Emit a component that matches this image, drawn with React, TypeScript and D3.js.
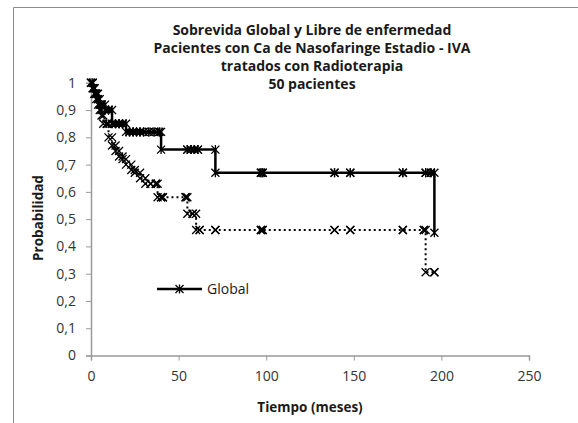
import { useEffect, useRef } from "react";
import * as d3 from "d3";

// [tiempo, probabilidad] at each event / censored case
const globalSurv: [number, number][] = [
  [0, 1], [1, 0.98], [2, 0.96], [3, 0.96], [4, 0.94], [5, 0.92], [6, 0.92],
  [8, 0.9], [10, 0.9], [12, 0.85], [14, 0.85], [16, 0.85], [18, 0.85],
  [20, 0.82], [22, 0.82], [24, 0.82], [26, 0.82], [28, 0.82], [30, 0.82],
  [33, 0.82], [36, 0.82], [39, 0.82], [40, 0.755], [55, 0.755], [57, 0.755],
  [59, 0.755], [61, 0.755], [71, 0.67], [97, 0.67], [98, 0.67], [139, 0.67],
  [148, 0.67], [178, 0.67], [191, 0.67], [194, 0.67], [196, 0.45],
];

const libreSurv: [number, number][] = [
  [0, 1], [1, 0.98], [2, 0.96], [3, 0.94], [4, 0.92], [5, 0.9], [6, 0.88],
  [7, 0.85], [9, 0.85], [10, 0.8], [12, 0.77], [14, 0.75], [16, 0.73],
  [18, 0.72], [20, 0.7], [23, 0.68], [25, 0.67], [28, 0.65], [31, 0.63],
  [34, 0.63], [37, 0.63], [38, 0.58], [40, 0.58], [41, 0.58], [54, 0.58],
  [55, 0.52], [58, 0.52], [60, 0.46], [62, 0.46], [71, 0.46], [97, 0.46],
  [98, 0.46], [139, 0.46], [148, 0.46], [178, 0.46], [190, 0.46],
  [191, 0.305], [196, 0.305],
];

const xTicks = [0, 50, 100, 150, 200, 250];
const yTicks = [0, 0.1, 0.2, 0.3, 0.4, 0.5, 0.6, 0.7, 0.8, 0.9, 1];
const titleLines = [
  "Sobrevida Global y Libre de enfermedad",
  "Pacientes con Ca de Nasofaringe Estadio - IVA",
  "tratados con Radioterapia",
  "50 pacientes",
];

const toSteps = (pts: [number, number][]) => {
  const out: [number, number][] = [];
  pts.forEach(([t, s], i) => {
    if (i > 0) out.push([t, pts[i - 1][1]]);
    out.push([t, s]);
  });
  return out;
};

export default function App() {
  const ref = useRef<SVGSVGElement>(null);

  useEffect(() => {
    const svg = d3.select(ref.current);
    svg.selectAll("*").remove();
    const width = 578;
    const height = 423;
    const font = "'Open Sans', sans-serif";

    const x = d3.scaleLinear().domain([0, 250]).range([91, 529]);
    const y = d3.scaleLinear().domain([0, 1]).range([355.5, 82.8]);

    // frame
    svg
      .append("path")
      .attr("d", `M13.5,${height} V7.5 H${width}`)
      .attr("fill", "none")
      .attr("stroke", "#8c8c8c")
      .attr("stroke-width", 1);

    // title
    svg
      .append("g")
      .selectAll("text")
      .data(titleLines)
      .join("text")
      .attr("x", 312)
      .attr("y", (_d, i) => 35 + i * 18)
      .attr("text-anchor", "middle")
      .attr("font-family", font)
      .attr("font-weight", "bold")
      .attr("font-size", 14)
      .attr("fill", "#1a1a1a")
      .text((d) => d);

    // axes
    const axisColor = "#9a9a9a";
    const gx = svg
      .append("g")
      .attr("transform", `translate(0,${y(0)})`)
      .call(
        d3
          .axisBottom(x)
          .tickValues(xTicks)
          .tickSizeOuter(0)
          .tickSize(5)
          .tickPadding(11)
      );
    const gy = svg
      .append("g")
      .attr("transform", `translate(${x(0)},0)`)
      .call(
        d3
          .axisLeft(y)
          .tickValues(yTicks)
          .tickSizeOuter(0)
          .tickSize(5)
          .tickPadding(10)
          .tickFormat((d) => d3.format(".1~f")(d as number).replace(".", ","))
      );
    [gx, gy].forEach((g) => {
      g.select(".domain").attr("stroke", axisColor).attr("stroke-width", 1.5);
      g.selectAll(".tick line").attr("stroke", axisColor);
      g.selectAll(".tick text")
        .attr("font-family", font)
        .attr("font-size", 14)
        .attr("fill", "#333");
    });

    svg
      .append("text")
      .attr("x", 310)
      .attr("y", 412)
      .attr("text-anchor", "middle")
      .attr("font-family", font)
      .attr("font-weight", "bold")
      .attr("font-size", 13.5)
      .attr("fill", "#1a1a1a")
      .text("Tiempo (meses)");
    svg
      .append("text")
      .attr("transform", `translate(43,218) rotate(-90)`)
      .attr("text-anchor", "middle")
      .attr("font-family", font)
      .attr("font-weight", "bold")
      .attr("font-size", 13.5)
      .attr("fill", "#1a1a1a")
      .text("Probabilidad");

    const line = d3
      .line<[number, number]>()
      .x((d) => x(d[0]))
      .y((d) => y(d[1]));

    const r = 4;
    const cross = (g: d3.Selection<SVGGElement, unknown, null, undefined>, px: number, py: number, star: boolean) => {
      let d = `M${px - r},${py - r}L${px + r},${py + r}M${px - r},${py + r}L${px + r},${py - r}`;
      if (star) d += `M${px},${py - r - 0.5}V${py + r + 0.5}`;
      g.append("path").attr("d", d).attr("stroke", "#000").attr("stroke-width", 1.3).attr("fill", "none");
    };

    // libre de enfermedad (dotted, x markers)
    const libreSteps = toSteps(libreSurv);
    svg
      .append("path")
      .attr("d", line(libreSteps))
      .attr("fill", "none")
      .attr("stroke", "#000")
      .attr("stroke-width", 2)
      .attr("stroke-dasharray", "2,3");
    const gl = svg.append("g");
    libreSteps.forEach((d) => cross(gl, x(d[0]), y(d[1]), false));

    // global (solid, star markers)
    const globalSteps = toSteps(globalSurv);
    svg
      .append("path")
      .attr("d", line(globalSteps))
      .attr("fill", "none")
      .attr("stroke", "#000")
      .attr("stroke-width", 2.5);
    const gg = svg.append("g");
    globalSteps.forEach((d) => cross(gg, x(d[0]), y(d[1]), true));

    // legend
    const lg = svg.append("g");
    lg.append("line")
      .attr("x1", 157)
      .attr("x2", 202)
      .attr("y1", 289)
      .attr("y2", 289)
      .attr("stroke", "#000")
      .attr("stroke-width", 2.5);
    cross(lg, 179.5, 289, true);
    lg.append("text")
      .attr("x", 207)
      .attr("y", 294)
      .attr("font-family", font)
      .attr("font-size", 14)
      .attr("fill", "#1a1a1a")
      .text("Global");
  }, []);

  return (
    <svg
      ref={ref}
      width={578}
      height={423}
      style={{ position: "absolute", left: 0, top: 0, background: "#fff" }}
    />
  );
}
